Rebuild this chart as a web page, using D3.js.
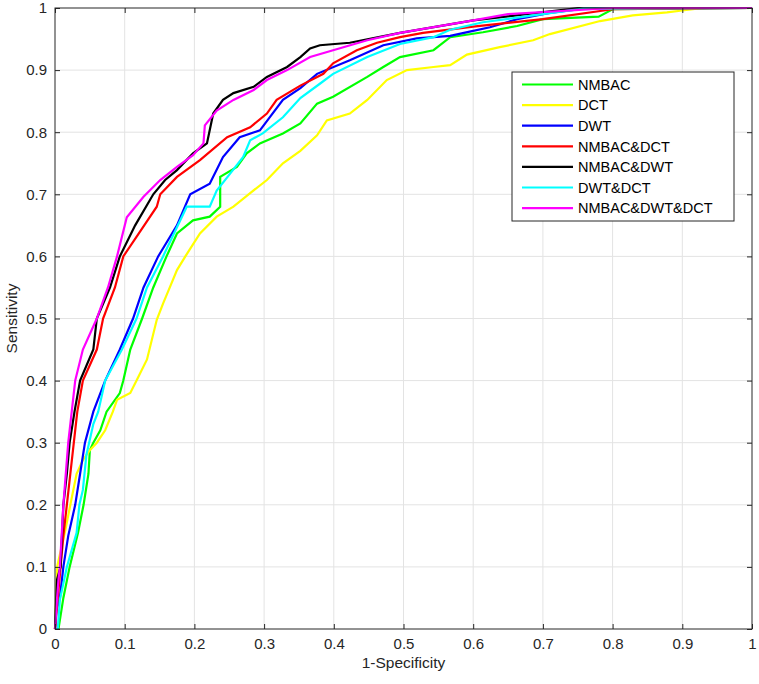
<!DOCTYPE html>
<html>
<head>
<meta charset="utf-8">
<script src="https://cdn.jsdelivr.net/npm/d3@7"></script>
<style>
  body { margin: 0; background: #fff; }
  text { font-family: "Liberation Sans", Arial, sans-serif; }
</style>
</head>
<body>
<div id="chart"></div>
<script>
// ROC points: [1-specificity, sensitivity]
var nmbac = [[0,0],[0.005,0],[0.012,0.05],[0.021,0.1],[0.033,0.155],[0.041,0.2],[0.048,0.25],[0.05,0.288],[0.055,0.3],[0.065,0.32],[0.074,0.35],[0.093,0.38],[0.098,0.4],[0.108,0.45],[0.125,0.5],[0.141,0.55],[0.16,0.6],[0.175,0.637],[0.198,0.658],[0.222,0.664],[0.237,0.68],[0.237,0.728],[0.261,0.744],[0.275,0.766],[0.294,0.782],[0.327,0.798],[0.352,0.814],[0.376,0.846],[0.399,0.857],[0.448,0.889],[0.471,0.905],[0.495,0.921],[0.543,0.932],[0.567,0.953],[0.614,0.961],[0.663,0.971],[0.7,0.982],[0.78,0.986],[0.8,0.998],[1,1]];
var dct = [[0,0],[0.003,0.1],[0.015,0.16],[0.022,0.2],[0.031,0.25],[0.04,0.272],[0.05,0.288],[0.06,0.3],[0.072,0.32],[0.083,0.35],[0.089,0.369],[0.108,0.38],[0.117,0.4],[0.132,0.434],[0.146,0.498],[0.155,0.524],[0.165,0.551],[0.175,0.578],[0.187,0.6],[0.208,0.637],[0.232,0.664],[0.256,0.68],[0.28,0.702],[0.304,0.723],[0.327,0.75],[0.352,0.77],[0.376,0.795],[0.39,0.819],[0.423,0.83],[0.448,0.852],[0.476,0.884],[0.505,0.9],[0.543,0.905],[0.567,0.908],[0.591,0.925],[0.638,0.937],[0.686,0.948],[0.71,0.958],[0.782,0.979],[0.829,0.988],[0.878,0.993],[0.9,0.996],[0.93,1],[1,1]];
var dwt = [[0,0],[0.002,0.03],[0.007,0.05],[0.012,0.1],[0.019,0.15],[0.029,0.2],[0.036,0.25],[0.043,0.3],[0.055,0.35],[0.072,0.4],[0.093,0.45],[0.112,0.5],[0.127,0.55],[0.148,0.6],[0.175,0.65],[0.194,0.7],[0.222,0.717],[0.241,0.76],[0.265,0.792],[0.294,0.803],[0.308,0.824],[0.327,0.852],[0.352,0.871],[0.376,0.894],[0.423,0.916],[0.471,0.94],[0.519,0.951],[0.567,0.955],[0.595,0.962],[0.624,0.969],[0.663,0.982],[0.71,0.992],[0.758,0.999],[1,1]];
var nmbacDct = [[0,0],[0.004,0.05],[0.008,0.1],[0.012,0.15],[0.017,0.2],[0.022,0.25],[0.027,0.3],[0.032,0.35],[0.04,0.4],[0.06,0.45],[0.069,0.5],[0.086,0.55],[0.098,0.6],[0.128,0.65],[0.146,0.68],[0.151,0.7],[0.175,0.728],[0.208,0.755],[0.247,0.792],[0.28,0.808],[0.304,0.83],[0.318,0.852],[0.352,0.875],[0.385,0.894],[0.399,0.911],[0.433,0.932],[0.462,0.944],[0.495,0.953],[0.528,0.96],[0.6,0.97],[0.7,0.982],[0.8,0.998],[1,1]];
var nmbacDwt = [[0,0],[0.003,0.08],[0.008,0.1],[0.012,0.2],[0.017,0.25],[0.021,0.3],[0.028,0.35],[0.036,0.4],[0.055,0.45],[0.06,0.5],[0.079,0.55],[0.093,0.6],[0.115,0.65],[0.141,0.7],[0.158,0.723],[0.175,0.739],[0.198,0.766],[0.218,0.782],[0.227,0.83],[0.241,0.852],[0.256,0.863],[0.285,0.873],[0.304,0.889],[0.333,0.905],[0.352,0.921],[0.366,0.935],[0.38,0.94],[0.423,0.944],[0.495,0.96],[0.6,0.98],[0.75,1],[1,1]];
var dwtDct = [[0,0],[0.004,0],[0.007,0.047],[0.017,0.1],[0.031,0.155],[0.035,0.2],[0.04,0.224],[0.045,0.28],[0.055,0.33],[0.062,0.35],[0.072,0.4],[0.096,0.45],[0.117,0.5],[0.132,0.55],[0.155,0.6],[0.175,0.647],[0.189,0.68],[0.222,0.68],[0.232,0.706],[0.251,0.733],[0.27,0.76],[0.28,0.787],[0.298,0.798],[0.327,0.824],[0.352,0.855],[0.38,0.878],[0.399,0.894],[0.448,0.921],[0.495,0.942],[0.543,0.953],[0.567,0.965],[0.614,0.977],[0.686,0.988],[0.758,0.999],[1,1]];
var nmbacDwtDct = [[0,0],[0.003,0.05],[0.005,0.08],[0.007,0.1],[0.012,0.2],[0.019,0.3],[0.029,0.4],[0.04,0.45],[0.06,0.5],[0.076,0.55],[0.089,0.6],[0.103,0.663],[0.127,0.696],[0.151,0.723],[0.175,0.744],[0.198,0.763],[0.213,0.782],[0.215,0.811],[0.232,0.835],[0.256,0.852],[0.285,0.868],[0.304,0.884],[0.333,0.9],[0.366,0.921],[0.399,0.932],[0.448,0.948],[0.495,0.96],[0.6,0.98],[0.65,0.99],[0.8,1],[1,1]];

var names = ['NMBAC', 'DCT', 'DWT', 'NMBAC&DCT', 'NMBAC&DWT', 'DWT&DCT', 'NMBAC&DWT&DCT'];
var colors = ['#00ff00', '#ffff00', '#0000ff', '#ff0000', '#000000', '#00ffff', '#ff00ff'];
var seriesData = [nmbac, dct, dwt, nmbacDct, nmbacDwt, dwtDct, nmbacDwtDct];
var ticks = [0, 0.1, 0.2, 0.3, 0.4, 0.5, 0.6, 0.7, 0.8, 0.9, 1];

var W = 759, H = 684;
var margins = {left: 55, right: 7, top: 8, bottom: 55};
var w = W - margins.left - margins.right,
    h = H - margins.top - margins.bottom;
var axisColor = '#262626';

var svg = d3.select('#chart').append('svg')
    .attr('width', W)
    .attr('height', H)
  .append('g')
    .attr('transform', 'translate(' + margins.left + ',' + margins.top + ')');

var xScale = d3.scaleLinear().domain([0, 1]).range([0, w]);
var yScale = d3.scaleLinear().domain([0, 1]).range([h, 0]);

// grid
svg.append('g').selectAll('line.gx')
  .data(ticks.slice(1, -1)).enter().append('line')
  .attr('x1', function(d) { return xScale(d); })
  .attr('x2', function(d) { return xScale(d); })
  .attr('y1', 0).attr('y2', h)
  .attr('stroke', '#e3e3e3').attr('stroke-width', 1);
svg.append('g').selectAll('line.gy')
  .data(ticks.slice(1, -1)).enter().append('line')
  .attr('y1', function(d) { return yScale(d); })
  .attr('y2', function(d) { return yScale(d); })
  .attr('x1', 0).attr('x2', w)
  .attr('stroke', '#e3e3e3').attr('stroke-width', 1);

// curves
var line = d3.line()
  .x(function(d) { return xScale(d[0]); })
  .y(function(d) { return yScale(d[1]); });

svg.append('g').selectAll('path.roc')
  .data(seriesData).enter().append('path')
  .attr('class', 'roc')
  .attr('d', line)
  .attr('fill', 'none')
  .attr('stroke', function(d, i) { return colors[i]; })
  .attr('stroke-width', 2.2)
  .attr('stroke-linejoin', 'miter');

// axes (MATLAB style: inward ticks, box)
function styleAxis(g) {
  g.select('.domain').remove();
  g.selectAll('.tick line').attr('stroke', axisColor);
  g.selectAll('.tick text').attr('fill', axisColor).style('font-size', '15px')
    .style('font-family', '"Liberation Sans", Arial, sans-serif');
}
var fmt = function(d) { return d === 0 ? '0' : d === 1 ? '1' : d3.format('.1f')(d); };

svg.append('g')
  .attr('transform', 'translate(0,' + h + ')')
  .call(d3.axisBottom(xScale).tickValues(ticks).tickFormat(fmt).tickSizeInner(-5).tickPadding(9))
  .call(styleAxis);
svg.append('g')
  .call(d3.axisLeft(yScale).tickValues(ticks).tickFormat(fmt).tickSizeInner(-5).tickPadding(8))
  .call(styleAxis);
svg.append('g')
  .call(d3.axisTop(xScale).tickValues(ticks).tickFormat('').tickSizeInner(-5))
  .call(styleAxis);
svg.append('g')
  .attr('transform', 'translate(' + w + ',0)')
  .call(d3.axisRight(yScale).tickValues(ticks).tickFormat('').tickSizeInner(-5))
  .call(styleAxis);

svg.append('rect')
  .attr('x', 0).attr('y', 0).attr('width', w).attr('height', h)
  .attr('fill', 'none').attr('stroke', axisColor).attr('stroke-width', 1);

// axis labels
svg.append('text')
  .text('1-Specificity')
  .attr('x', w / 2).attr('y', h + 39)
  .attr('text-anchor', 'middle')
  .attr('fill', axisColor)
  .style('font-size', '15.5px');
svg.append('text')
  .text('Sensitivity')
  .attr('transform', 'translate(' + (-38) + ',' + (h / 2) + ') rotate(-90)')
  .attr('text-anchor', 'middle')
  .attr('fill', axisColor)
  .style('font-size', '15.5px');

// legend
var lx = 512 - margins.left, ly = 72 - margins.top;
var legend = svg.append('g').attr('transform', 'translate(' + lx + ',' + ly + ')');
legend.append('rect')
  .attr('width', 222).attr('height', 149)
  .attr('fill', '#fff').attr('stroke', axisColor).attr('stroke-width', 1);
var items = legend.selectAll('g.item')
  .data(names).enter().append('g')
  .attr('transform', function(d, i) { return 'translate(0,' + (12.5 + i * 20.6) + ')'; });
items.append('line')
  .attr('x1', 10).attr('x2', 61)
  .attr('stroke', function(d, i) { return colors[i]; })
  .attr('stroke-width', 2.2);
items.append('text')
  .text(function(d) { return d; })
  .attr('x', 66).attr('dy', '0.36em')
  .attr('fill', '#000')
  .style('font-size', '14.5px');
</script>
</body>
</html>
